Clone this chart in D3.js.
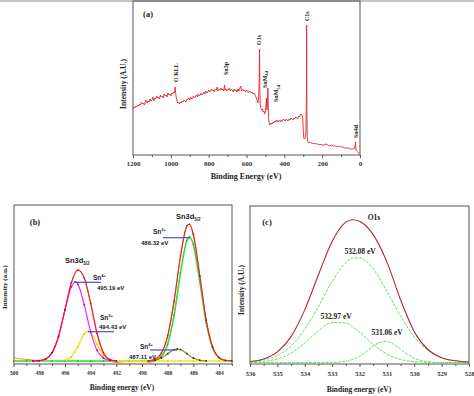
<!DOCTYPE html>
<html>
<head>
<meta charset="utf-8">
<script src="https://cdn.jsdelivr.net/npm/d3@7"></script>
<style>
  body { margin: 0; background: #fff; }
  svg { display: block; }
  .serif { font-family: "Liberation Serif", "Times New Roman", serif; font-weight: bold; }
  .sans { font-family: "Liberation Sans", Arial, sans-serif; font-weight: bold; }
</style>
</head>
<body>
<div id="chart"></div>
<script>
const F_WIDTH = 474;
const F_HEIGHT = 396;

// ---- (a) survey spectrum: [binding energy, intensity]
const SURVEY = [[1200,46],[1195,48],[1190,47],[1185,49],[1180,48],[1175,50],[1170,49],[1165,51],[1160,50],[1155,53],[1150,51],[1145,52],[1140,50],[1135,53],[1130,55],[1125,52],[1120,54],[1115,53],[1110,56],[1105,54],[1100,55],[1095,58],[1090,54],[1085,57],[1080,56],[1075,59],[1070,57],[1065,58],[1060,56],[1055,60],[1050,58],[1045,59],[1040,57],[1035,61],[1030,59],[1025,60],[1020,58],[1015,62],[1010,60],[1005,61],[1000,59],[995,62],[990,61],[985,63],[980,62],[977,68],[975,63],[972,58],[968,55],[964,52],[960,53],[955,51],[950,53],[945,52],[940,54],[935,53],[930,55],[925,54],[920,53],[915,56],[910,55],[905,57],[900,55],[895,58],[890,56],[885,57],[880,59],[875,57],[870,58],[865,60],[860,58],[855,61],[850,59],[845,60],[840,62],[835,60],[830,61],[825,63],[820,61],[815,64],[810,62],[805,63],[800,65],[795,63],[790,64],[785,66],[780,64],[775,65],[770,63],[765,66],[760,65],[755,68],[750,64],[745,66],[740,65],[735,67],[730,65],[725,66],[720,64],[716,70],[713,65],[710,66],[705,64],[700,66],[695,65],[690,67],[685,64],[680,66],[675,65],[670,63],[665,66],[660,64],[655,65],[650,63],[645,66],[640,64],[635,67],[630,69],[627,64],[620,66],[615,64],[610,65],[605,63],[600,65],[595,64],[590,62],[585,64],[580,63],[575,62],[570,63],[565,61],[560,62],[555,60],[550,58],[545,55],[540,52],[536,56],[533,75],[531,106],[529,60],[527,50],[524,47],[520,45],[516,46],[512,43],[508,44],[504,41],[500,44],[497,50],[495,57],[493,47],[491,45],[489,52],[487,67],[485,48],[483,36],[480,32],[476,30],[470,32],[465,31],[460,33],[455,32],[450,34],[445,33],[440,35],[435,33],[430,34],[425,35],[420,33],[415,35],[410,34],[405,36],[400,35],[395,34],[390,36],[385,35],[380,34],[375,36],[370,35],[365,37],[360,36],[355,35],[350,37],[345,36],[340,38],[335,37],[330,36],[325,39],[320,38],[315,40],[310,41],[305,39],[302,36],[300,25],[298,18],[295,16],[290,17],[286,22],[283,60],[282,130],[281,45],[279,18],[276,13],[272,12],[265,13],[260,12],[255,12],[250,11],[245,12],[240,11],[235,11],[230,12],[225,11],[220,10],[215,11],[210,10],[205,11],[200,10],[190,10],[180,11],[170,10],[160,9],[150,10],[140,9],[130,9],[120,8],[110,9],[100,8],[90,8],[80,7],[70,7],[60,7],[50,6],[40,6],[32,6],[29,7],[26,9],[24,13],[23,9],[21,5],[18,4],[12,3],[6,2],[1,1]];
// peak labels: [energy, intensity at the label foot, text, subscript]
const SURVEY_LABELS = [[962, 73, "O KLL", ""], [698, 80, "Sn3p", ""], [521, 110, "O1s", ""],
                       [492, 67, "SnM", "4d"], [433, 53, "SnM", "5d"], [271, 134, "C1s", ""], [12, 17, "Sn4d", ""]];
const A_MAJOR = [1200, 1000, 800, 600, 400, 200, 0];
const A_MINOR = [1100, 900, 700, 500, 300, 100];

// ---- (b) Sn 3d
const B_RED_L_E = [498.5, 498, 497.5, 497, 496.5, 496, 495.5, 495, 494.5, 494, 493.5, 493, 492.5, 492];
const B_RED_L_I = [3.0, 3.4, 5.0, 11.4, 27.5, 54.4, 81.3, 94.0, 86.3, 60.8, 30.5, 11.3, 4.5, 3.0];
const B_RED_R_E = [489.5, 489, 488.5, 488, 487.5, 487, 486.5, 486.3, 486, 485.5, 485, 484.5, 484, 483.5, 483];
const B_RED_R_I = [3.2, 4.7, 10.7, 28.1, 62.9, 108.0, 138.2, 139.8, 129.5, 88.2, 43.9, 17.0, 6.4, 3.5, 3.1];
const B_MAG_E = [498.5, 498, 497.5, 497, 496.5, 496, 495.5, 495.2, 495, 494.5, 494, 493.5, 493, 492.5, 492];
const B_MAG_I = [3.0, 3.4, 5.0, 11.4, 27.5, 53.7, 77.2, 82.0, 79.9, 59.3, 32.2, 13.7, 5.8, 3.5, 3.0];
const B_YEL_E = [496, 495.5, 495, 494.5, 494.2, 494, 493.5, 493, 492.5, 492, 491, 490, 489, 488, 487, 486, 485, 484, 483];
const B_YEL_I = [3.7, 7.1, 17.1, 30.0, 33.0, 31.6, 19.8, 8.5, 4.0, 3.1, 3, 3, 3, 3, 3, 3, 3, 3, 3];
const B_GRN_E = [500, 499, 498, 497, 496, 495, 494, 493, 492, 491, 490, 489.5, 489, 488.5, 488, 487.5, 487, 486.5, 486.3, 486, 485.5, 485, 484.5, 484, 483.5, 483];
const B_GRN_I = [3, 3, 3, 3, 3, 3, 3, 3, 3, 3, 3, 3.1, 3.8, 7.4, 19.8, 48.8, 91.3, 123.7, 127.0, 119.5, 82.6, 41.5, 16.2, 6.2, 3.5, 3.1];
const B_OLV_E = [489.5, 489, 488.5, 488, 487.5, 487.25, 487, 486.5, 486, 485.5, 485];
const B_OLV_I = [3.1, 3.8, 6.0, 10.3, 14.4, 15.0, 14.4, 10.3, 6.0, 3.8, 3.1];
const B_ORG_E = [500, 499.5, 499, 498.5, 498, 497.5, 497, 496.5, 496, 495.5, 495, 494.5, 494, 493.5, 493, 492.5, 492, 491.5, 491, 490.5, 490, 489.5, 489, 488.5, 488, 487.5, 487, 486.5, 486.3, 486, 485.5, 485, 484.5, 484, 483.5, 483];
const B_ORG_I = [6.3, 5.3, 4.5, 3.8, 3.5, 5.0, 11.4, 27.5, 54.4, 81.3, 94.0, 86.3, 60.8, 30.5, 10.8, 3.5, 1.6, 0.8, 0.3, 0.0, 0.2, 1.2, 3.0, 9.5, 28.1, 62.9, 108.0, 138.2, 139.8, 129.5, 88.2, 43.9, 17.0, 6.4, 3.5, 3.1];
const B_MAJOR = [500, 498, 496, 494, 492, 490, 488, 486, 484];
const B_MINOR = [499, 497, 495, 493, 491, 489, 487, 485, 483];

// ---- (c) O 1s
const C_E = [536, 535.5, 535, 534.5, 534, 533.5, 533, 532.5, 532.25, 532, 531.5, 531, 530.5, 530, 529.5, 529, 528.5, 528];
const C_RED = [2.5, 5.1, 12.1, 27.4, 54.1, 89.2, 122.6, 141.9, 144.3, 142.8, 129.4, 102.1, 64.2, 32.3, 14.5, 6.3, 3.2, 2.0];
const C_G1 = [2.3, 4.1, 8.6, 18.1, 34.6, 57.6, 82.5, 101.3, 105.7, 106.2, 95.1, 72.8, 47.8, 27.1, 13.6, 6.3, 3.2, 2.0];
const C_G2 = [1.7, 2.5, 5.0, 10.8, 21.0, 33.1, 41.5, 40.9, 37.1, 31.8, 19.6, 9.9, 4.5, 2.4, 1.7, 1.5, 1.5, 1.5];
const C_G3_E = [536, 535, 534, 533, 532.5, 532, 531.75, 531.5, 531.25, 531.07, 530.85, 530.6, 530.35, 530.1, 529.5, 529, 528];
const C_G3_I = [1.5, 1.5, 1.5, 1.6, 2.7, 7.8, 12.6, 17.7, 21.6, 22.5, 21.1, 17.0, 11.7, 7.2, 2.2, 1.5, 1.5];
const C_MAJOR = [536, 535, 534, 533, 532, 531, 530, 529, 528];
const C_MINOR = [535.5, 534.5, 533.5, 532.5, 531.5, 530.5, 529.5, 528.5];

const SVG = d3.select("#chart")
          .append("svg")
            .attr("width", F_WIDTH)
            .attr("height", F_HEIGHT);

SVG.append("rect").attr("width", F_WIDTH).attr("height", F_HEIGHT).attr("fill", "#fff");
SVG.append("rect").attr("width", F_WIDTH).attr("height", 2).attr("fill", "#c4c4c4");

// frame + bottom ticks for one panel
function drawFrame(box, X, majors, minors, fontSize, labelPad) {
  SVG.append("rect")
      .attr("x", box.left).attr("y", box.top)
      .attr("width", box.right - box.left).attr("height", box.bottom - box.top)
      .attr("fill", "none").attr("stroke", "#555").attr("stroke-width", 1);

  const major = SVG.append("g")
      .attr("transform", "translate(0," + box.bottom + ")")
      .call(d3.axisBottom(X).tickValues(majors).tickSize(3).tickPadding(labelPad).tickFormat(d3.format("d")));
  major.select(".domain").remove();
  major.selectAll("line").attr("stroke", "#555");
  major.selectAll("text")
      .attr("class", "serif")
      .attr("font-size", fontSize)
      .attr("fill", "#333");

  const minor = SVG.append("g")
      .attr("transform", "translate(0," + box.bottom + ")")
      .call(d3.axisBottom(X).tickValues(minors).tickSize(2).tickFormat(""));
  minor.select(".domain").remove();
  minor.selectAll("line").attr("stroke", "#555");
}

function addText(x, y, str, cls, size, anchor, rotate) {
  const t = SVG.append("text")
      .attr("class", cls)
      .attr("font-size", size)
      .attr("fill", "#222")
      .attr("text-anchor", anchor || "middle")
      .attr("transform", "translate(" + x + "," + y + ")" + (rotate ? " rotate(-90)" : ""))
      .text(str);
  return t;
}

function drawLine(X, Y, es, vals, color, width, dash) {
  const pts = d3.zip(es, vals);
  SVG.append("path")
      .datum(pts)
      .attr("fill", "none")
      .attr("stroke", color)
      .attr("stroke-width", width)
      .attr("stroke-dasharray", dash || null)
      .attr("d", d3.line().x(d => X(d[0])).y(d => Y(d[1])).curve(d3.curveMonotoneX));
  return pts;
}

function drawDots(X, Y, pts, color, r) {
  SVG.append("g").selectAll("circle")
      .data(pts)
      .enter()
      .append("circle")
        .attr("cx", d => X(d[0]))
        .attr("cy", d => Y(d[1]))
        .attr("r", r)
        .attr("fill", color);
}

// ================= (a)
function visA() {
  const BOX = {left: 133, right: 360, top: 1, bottom: 155};
  const X = d3.scaleLinear().domain([1200, 0]).range([BOX.left, BOX.right]);
  const Y = d3.scaleLinear().domain([0, 154]).range([BOX.bottom, BOX.top]);

  drawFrame(BOX, X, A_MAJOR, A_MINOR, 7, 3);

  SVG.append("path")
      .datum(SURVEY)
      .attr("fill", "none")
      .attr("stroke", "#e8262c")
      .attr("stroke-width", 0.9)
      .attr("d", d3.line().x(d => X(d[0])).y(d => Y(d[1])));

  SURVEY_LABELS.forEach(l => {
    const t = addText(X(l[0]), Y(l[1]), l[2], "serif", 6, "start", true);
    if (l[3]) {
      t.append("tspan").attr("font-size", 4.5).attr("dy", 1.5).text(l[3]);
    }
  });

  addText(148, 17, "(a)", "serif", 8.5);
  addText(126, 84, "Intensity (A.U.)", "serif", 7.5, "middle", true);
  addText(246, 179, "Binding Energy (eV)", "serif", 8);
}

// ================= (b)
function visB() {
  const BOX = {left: 14, right: 232, top: 205, bottom: 364};
  const X = d3.scaleLinear().domain([500, 483]).range([13.6, 13.6 + 17 * 12.84]);
  const Y = d3.scaleLinear().domain([0, 159]).range([BOX.bottom, BOX.top]);

  drawFrame(BOX, X, B_MAJOR, B_MINOR, 5.5, 4);

  const grn = drawLine(X, Y, B_GRN_E, B_GRN_I, "#2ee02e", 1.6);
  drawDots(X, Y, grn, "#15b015", 0.8);
  const yel = drawLine(X, Y, B_YEL_E, B_YEL_I, "#eaea22", 1.6);
  drawDots(X, Y, yel, "#c8c800", 0.8);
  drawLine(X, Y, B_ORG_E, B_ORG_I, "#f39030", 1.1);
  const mag = drawLine(X, Y, B_MAG_E, B_MAG_I, "#ff22ff", 1.2);
  drawDots(X, Y, mag, "#b000b0", 0.9);
  const olv = drawLine(X, Y, B_OLV_E, B_OLV_I, "#8a8a10", 1.1);
  drawDots(X, Y, olv, "#303000", 0.9);
  const redL = drawLine(X, Y, B_RED_L_E, B_RED_L_I, "#f01a3a", 1.1);
  drawDots(X, Y, redL, "#a0102a", 0.8);
  const redR = drawLine(X, Y, B_RED_R_E, B_RED_R_I, "#f01a3a", 1.1);
  drawDots(X, Y, redR.filter(d => d[0] >= 486.3), "#a0102a", 0.8);
  drawDots(X, Y, redR.filter(d => d[0] < 486.3), "#4a3a08", 0.9);

  // annotation bars
  const BARS = [[74, 101, 282.3], [88, 114, 331.7], [150, 177, 350], [163, 190, 237.7]];
  BARS.forEach(b => {
    SVG.append("line")
        .attr("x1", b[0]).attr("x2", b[1]).attr("y1", b[2]).attr("y2", b[2])
        .attr("stroke", "#4b4bd0").attr("stroke-width", 1.2);
  });

  const s1 = addText(65, 263, "Sn3d", "sans", 7.5, "start");
  s1.append("tspan").attr("font-size", 4.5).attr("dy", 2).text("3/2");
  const s2 = addText(176, 219, "Sn3d", "sans", 7.5, "start");
  s2.append("tspan").attr("font-size", 4.5).attr("dy", 2).text("5/2");

  const SN = [[93, 280, "4+"], [100, 320, "2+"], [140, 349, "4+"], [153, 234, "2+"]];
  SN.forEach(s => {
    const t = addText(s[0], s[1], "Sn", "sans", 6.5, "start");
    t.append("tspan").attr("font-size", 4).attr("dy", -3).text(s[2]);
  });
  addText(97, 290, "495.19 eV", "sans", 6, "start");
  addText(99, 329, "494.43 eV", "sans", 6, "start");
  addText(129, 359, "487.11 eV", "sans", 6, "start");
  addText(141, 245, "486.32 eV", "sans", 6, "start");

  addText(35, 225, "(b)", "serif", 8.5);
  addText(7, 287, "Intensity (a.u.)", "serif", 7, "middle", true);
  addText(122, 390, "Binding energy (eV)", "serif", 7.5);
}

// ================= (c)
function visC() {
  const BOX = {left: 250, right: 469, top: 206, bottom: 364};
  const X = d3.scaleLinear().domain([536, 528]).range([BOX.left, BOX.right]);
  const Y = d3.scaleLinear().domain([0, 158]).range([BOX.bottom, BOX.top]);

  drawFrame(BOX, X, C_MAJOR, C_MINOR, 6.5, 4);

  drawLine(X, Y, C_E, C_G1, "#62e362", 1, "3,1.2");
  drawLine(X, Y, C_E, C_G2, "#62e362", 1, "3,1.2");
  drawLine(X, Y, C_G3_E, C_G3_I, "#62e362", 1, "3,1.2");
  drawLine(X, Y, C_E, C_RED, "#b3262e", 1.1);

  addText(267, 225, "(c)", "serif", 8.5);
  addText(374, 220, "O1s", "serif", 7.5);
  addText(360, 254, "532.08 eV", "serif", 7.5);
  addText(336, 319, "532.97 eV", "serif", 7.5);
  addText(387, 335, "531.06 eV", "serif", 7.5);
  addText(244, 290, "Intensity (A.U.)", "serif", 7.5, "middle", true);
  addText(359, 392, "Binding energy (eV)", "serif", 7.5);
}

visA();
visB();
visC();
</script>
</body>
</html>
